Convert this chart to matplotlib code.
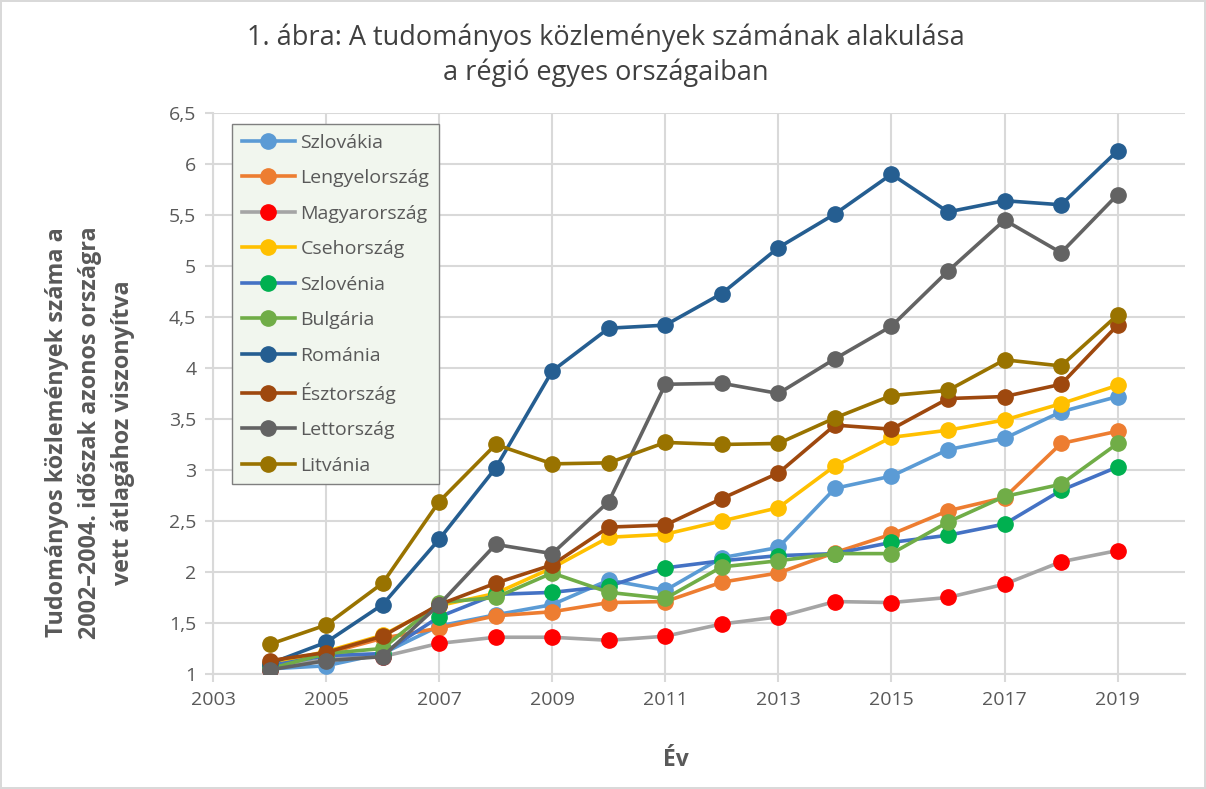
import matplotlib
matplotlib.use('Agg')
import matplotlib.pyplot as plt
from matplotlib.ticker import FuncFormatter

plt.rcParams['font.family'] = ['Open Sans', 'DejaVu Sans']

years = list(range(2004, 2020))

szlovakia = [1.05, 1.08, 1.20, 1.47, 1.58, 1.68, 1.92, 1.82, 2.14, 2.24, 2.82, 2.94, 3.20, 3.31, 3.57, 3.72]
lengyel = [1.10, 1.20, 1.35, 1.45, 1.57, 1.61, 1.70, 1.71, 1.90, 1.99, 2.19, 2.37, 2.60, 2.73, 3.26, 3.38]
magyar = [1.04, 1.15, 1.17, 1.30, 1.36, 1.36, 1.33, 1.37, 1.49, 1.56, 1.71, 1.70, 1.75, 1.88, 2.10, 2.21]
cseh = [1.10, 1.22, 1.38, 1.67, 1.79, 2.04, 2.34, 2.37, 2.50, 2.63, 3.04, 3.32, 3.39, 3.49, 3.65, 3.83]
szloven = [1.08, 1.18, 1.20, 1.56, 1.78, 1.80, 1.86, 2.04, 2.11, 2.16, 2.18, 2.29, 2.36, 2.47, 2.80, 3.03]
bulgaria = [1.05, 1.20, 1.25, 1.70, 1.75, 1.99, 1.80, 1.74, 2.05, 2.11, 2.18, 2.18, 2.49, 2.74, 2.86, 3.26]
romania = [1.10, 1.31, 1.68, 2.32, 3.02, 3.97, 4.39, 4.42, 4.73, 5.18, 5.51, 5.90, 5.53, 5.64, 5.60, 6.13]
esztor = [1.13, 1.21, 1.37, 1.68, 1.89, 2.07, 2.44, 2.46, 2.72, 2.97, 3.44, 3.40, 3.70, 3.72, 3.84, 4.42]
lettor = [1.04, 1.13, 1.17, 1.68, 2.27, 2.18, 2.69, 3.84, 3.85, 3.75, 4.09, 4.41, 4.95, 5.45, 5.13, 5.70]
litvan = [1.29, 1.48, 1.89, 2.69, 3.25, 3.06, 3.07, 3.27, 3.25, 3.26, 3.51, 3.73, 3.78, 4.08, 4.02, 4.52]

names = ['Szlovákia', 'Lengyelország', 'Magyarország', 'Csehország', 'Szlovénia',
         'Bulgária', 'Románia', 'Észtország', 'Lettország', 'Litvánia']
series = [szlovakia, lengyel, magyar, cseh, szloven, bulgaria, romania, esztor, lettor, litvan]
line_colors = ['#5B9BD5', '#ED7D31', '#A5A5A5', '#FFC000', '#4472C4',
               '#70AD47', '#255E91', '#9E480E', '#636363', '#997300']
marker_colors = ['#5B9BD5', '#ED7D31', '#FF0000', '#FFC000', '#00B050',
                 '#70AD47', '#255E91', '#9E480E', '#636363', '#997300']

fig = plt.figure(figsize=(12.06, 7.89), dpi=100)
fig.patch.set_edgecolor('#D9D9D9')
fig.patch.set_linewidth(1.5)
ax = fig.add_axes([0.1766, 0.1458, 0.8064, 0.711])

for i in range(len(names)):
    ax.plot(years, series[i], color=line_colors[i], linewidth=2.6, marker='o',
            markersize=11, markerfacecolor=marker_colors[i],
            markeredgecolor=marker_colors[i], label=names[i], zorder=3 + i)

ax.set_xlim(2003, 2020.2)
ax.set_ylim(1, 6.5)
ax.set_xticks(range(2003, 2020, 2))
ax.set_yticks([1, 1.5, 2, 2.5, 3, 3.5, 4, 4.5, 5, 5.5, 6, 6.5])
ax.yaxis.set_major_formatter(FuncFormatter(lambda v, p: ('%g' % v).replace('.', ',')))
ax.grid(color='#D9D9D9', linewidth=1.5)
ax.set_axisbelow(True)
for s in ['top', 'right']:
    ax.spines[s].set_visible(False)
for s in ['bottom', 'left']:
    ax.spines[s].set_color('#D9D9D9')
    ax.spines[s].set_linewidth(1.5)
ax.tick_params(axis='y', length=6, color='#D9D9D9', width=1.5, labelsize=14,
               labelcolor='#595959', pad=6)
ax.tick_params(axis='x', length=6, color='#D9D9D9', width=1.5, labelsize=14,
               labelcolor='#595959', pad=6)

fig.text(0.5605, 0.037, 'Év', ha='center', va='center', fontsize=16.5,
         fontweight='bold', color='#595959')
fig.text(0.0746, 0.452, 'Tudományos közlemények száma a\n2002–2004. időszak azonos országra\nvett átlagához viszonyítva',
         ha='center', va='center', rotation=90, multialignment='center',
         fontsize=16.8, fontweight='bold', color='#595959', linespacing=1.5)
fig.text(0.502, 0.97, '1. ábra: A tudományos közlemények számának alakulása\na régió egyes országaiban',
         ha='center', va='top', fontsize=19.5, color='#404040', linespacing=1.3)

leg = ax.legend(loc='upper left', bbox_to_anchor=(0.01, 0.998), fontsize=14,
                frameon=True, fancybox=False, labelspacing=0.9, handlelength=2.7,
                borderpad=0.5, handletextpad=0.3)
leg.get_frame().set_facecolor('#F1F6EE')
leg.get_frame().set_edgecolor('#7F7F7F')
leg.get_frame().set_alpha(1)
for t in leg.get_texts():
    t.set_color('#595959')

plt.savefig('out.png', dpi=100)
